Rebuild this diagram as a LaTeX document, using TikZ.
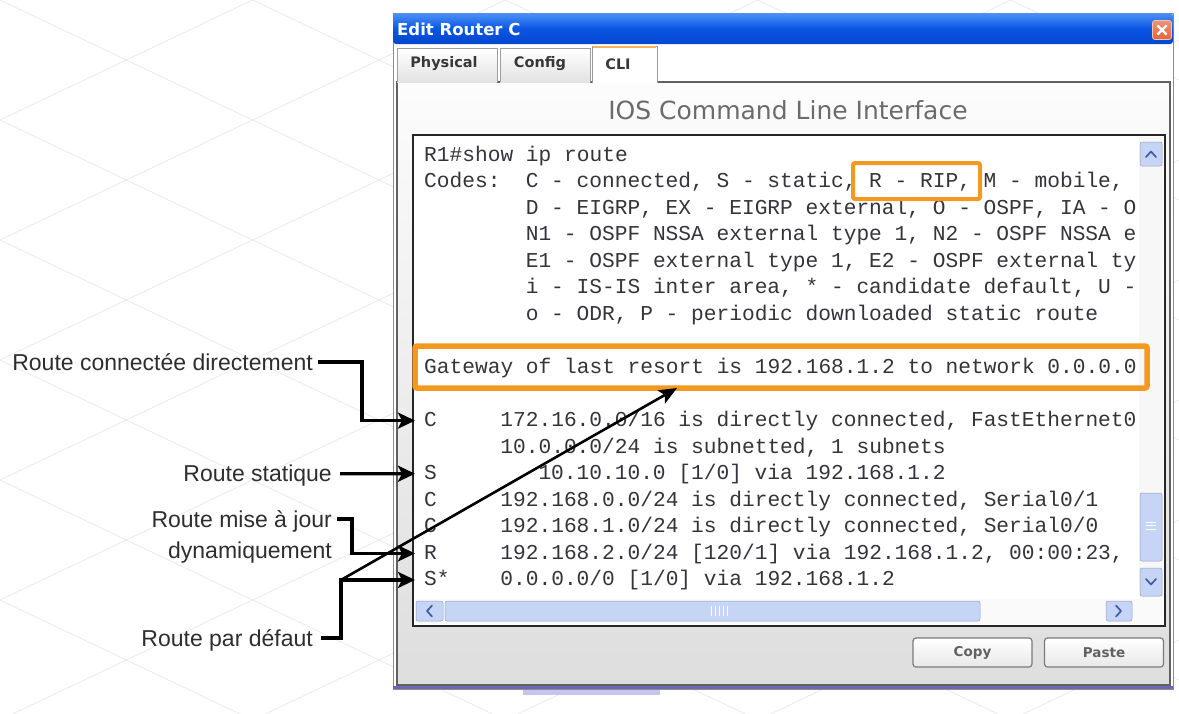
\documentclass[tikz,border=0pt]{standalone}
\usepackage{fontspec}
\setmainfont{Liberation Sans}
\setmonofont{Liberation Mono}
\newfontfamily\uifont{DejaVu Sans}
\usetikzlibrary{arrows.meta}

\definecolor{xpblue}{RGB}{10,86,228}
\definecolor{xpbluelight}{RGB}{78,146,246}
\definecolor{xpbluedark}{RGB}{6,70,205}
\definecolor{hiorange}{RGB}{243,153,33}
\definecolor{sbblue}{RGB}{198,213,246}
\definecolor{sbdark}{RGB}{62,92,165}
\definecolor{clitext}{RGB}{52,52,58}
\definecolor{closered}{RGB}{226,102,60}
\definecolor{winedge}{RGB}{104,104,182}
\definecolor{lavender}{RGB}{196,196,236}

\tikzset{
  gridln/.style={draw=black!9, line width=0.7pt},
  clitxt/.style={anchor=west, inner sep=0pt, text height=12pt, text depth=0pt,
    font=\ttfamily\fontsize{21.2}{26}\selectfont, text=clitext},
  callout/.style={anchor=east, inner sep=0pt, text height=16.5pt, text depth=0pt,
    font=\fontsize{23}{28}\selectfont, text=black!82},
  pointer/.style={draw=black, line width=3.2pt,
    -{Stealth[length=17pt,width=16pt,inset=4pt]}},
  slimpointer/.style={draw=black, line width=2.6pt,
    -{Stealth[length=18pt,width=15pt,inset=4pt]}},
  hibox/.style={draw=hiorange, rounded corners=2pt},
  tabshape/.style={draw=black!38, line width=0.8pt, top color=white, bottom color=black!11},
  tablabel/.style={inner sep=0pt, font=\uifont\bfseries\fontsize{14.5}{16}\selectfont, text=black!78},
  sbbtn/.style={fill=sbblue, draw=sbblue!75!black, line width=0.5pt, rounded corners=2pt},
  chev/.style={draw=sbdark, line width=1.7pt, line cap=round, line join=round},
  uibtn/.style={draw=black!52, line width=1.2pt, rounded corners=3pt, top color=white,
    bottom color=black!9, minimum width=119pt, minimum height=29pt, inner sep=0pt,
    font=\uifont\bfseries\fontsize{13.5}{15}\selectfont, text=black!62},
}

% one line of terminal output: name, column, row, text
\newcommand\cliline[4]{\node[clitxt] (#1) at ({424+12.7*#2},{155+26.56*#3}) {#4};}

\begin{document}
\begin{tikzpicture}[x=1pt,y=-1pt]
\useasboundingbox (0,0) rectangle (1179,713);
\fill[white] (0,0) rectangle (1179,713);

% faint isometric floor grid behind the dialog
\begin{scope}
  \clip (0,0) rectangle (1179,713);
  \foreach \c in {-720,-600,...,1320} {
    \draw[gridln] (0,\c) -- (1179,\c+560);
    \draw[gridln] (0,\c) -- (1179,\c-560);
  }
\end{scope}

% ---------------- dialog window ----------------
\fill[lavender] (523,689) rectangle (660,695);
\fill[white] (393,13) rectangle (1173,689);
\draw[black!45, line width=0.8pt] (393,13) rectangle (1173,689);
\draw[winedge, line width=3pt] (393,687.5) -- (1173,687.5);

% title bar
\shade[top color=xpbluelight, bottom color=xpbluedark, middle color=xpblue,
  rounded corners=3pt] (393,13) rectangle (1173,44);
\node[anchor=west, inner sep=0pt, text=white,
  font=\uifont\bfseries\fontsize{16.5}{19}\selectfont] (title) at (397,29.5) {Edit Router C};
\node[draw=white!60!closered, line width=0.8pt, rounded corners=2.5pt,
  top color=closered!70!white, bottom color=closered, minimum size=19pt, inner sep=0pt]
  (closebtn) at (1162,30) {};
\draw[white, line width=2.4pt] ([shift={(-4.5,-4.5)}]closebtn.center) -- ([shift={(4.5,4.5)}]closebtn.center)
  ([shift={(-4.5,4.5)}]closebtn.center) -- ([shift={(4.5,-4.5)}]closebtn.center);

% tab panel
\shade[top color=black!1, bottom color=black!13] (397,82) rectangle (1170,685);
\draw[black!62, line width=1.4pt] (592,82) -- (397,82) -- (397,685) -- (1170,685) -- (1170,82) -- (657,82);

% tabs
\path[tabshape] (397,82) -- (397,48) -- (497,48) -- (497,82);
\path[tabshape] (500,82) -- (500,48) -- (590,48) -- (590,82);
\fill[white] (592,46) rectangle (657,83);
\draw[black!40, line width=0.8pt] (592,83) -- (592,46) -- (657,46) -- (657,83);
\draw[hiorange!75, line width=2pt] (593,47) -- (656,47);
\node[tablabel] (tabphys) at (444,64) {Physical};
\node[tablabel] (tabconf) at (540,64) {Config};
\node[tablabel] (tabcli)  at (618,64) {CLI};

\node[inner sep=0pt, text=black!58, font=\uifont\fontsize{25}{28}\selectfont]
  (ioshead) at (788,110) {IOS Command Line Interface};

% terminal area
\draw[fill=white, draw=black!85, line width=1.8pt] (413,135) rectangle (1165,626);

% vertical scroll bar
\fill[black!3] (1139,137) rectangle (1163,598);
\path[sbbtn] (1140,142) rectangle (1162,166);
\draw[chev] (1146,157) -- (1151,151.5) -- (1156,157);
\path[sbbtn] (1140,493) rectangle (1162,561);
\draw[white, line width=0.9pt] (1146,522) -- (1156,522) (1146,525.5) -- (1156,525.5) (1146,529) -- (1156,529);
\path[sbbtn] (1140,568) rectangle (1162,596);
\draw[chev] (1146,579) -- (1151,584.5) -- (1156,579);

% horizontal scroll bar
\fill[black!2] (415,599) rectangle (1163,624);
\path[sbbtn] (416,601) rectangle (443,621);
\draw[chev] (432,605.5) -- (427,611) -- (432,616.5);
\path[sbbtn] (445,601) rectangle (980,621);
\foreach \g in {711,715,719,723,727} \draw[white, line width=0.9pt] (\g,606) -- (\g,616);
\path[sbbtn] (1106,601) rectangle (1132,621);
\draw[chev] (1116,605.5) -- (1121,611) -- (1116,616.5);

% terminal output (the visible 56 columns)
\cliline{l0}{0}{0}{R1\#show ip route}
\cliline{l1a}{0}{1}{Codes:}
\cliline{l1b}{8}{1}{C - connected, S - static, R - RIP, M - mobile,}
\cliline{l2}{8}{2}{D - EIGRP, EX - EIGRP external, O - OSPF, IA - O}
\cliline{l3}{8}{3}{N1 - OSPF NSSA external type 1, N2 - OSPF NSSA e}
\cliline{l4}{8}{4}{E1 - OSPF external type 1, E2 - OSPF external ty}
\cliline{l5}{8}{5}{i - IS-IS inter area, * - candidate default, U -}
\cliline{l6}{8}{6}{o - ODR, P - periodic downloaded static route}
\cliline{l8}{0}{8}{Gateway of last resort is 192.168.1.2 to network 0.0.0.0}
\cliline{cC}{0}{10}{C}
\cliline{l10}{6}{10}{172.16.0.0/16 is directly connected, FastEthernet0}
\cliline{l11}{6}{11}{10.0.0.0/24 is subnetted, 1 subnets}
\cliline{cS}{0}{12}{S}
\cliline{l12}{9}{12}{10.10.10.0 [1/0] via 192.168.1.2}
\cliline{cC2}{0}{13}{C}
\cliline{l13}{6}{13}{192.168.0.0/24 is directly connected, Serial0/1}
\cliline{cC3}{0}{14}{C}
\cliline{l14}{6}{14}{192.168.1.0/24 is directly connected, Serial0/0}
\cliline{cR}{0}{15}{R}
\cliline{l15}{6}{15}{192.168.2.0/24 [120/1] via 192.168.1.2, 00:00:23,}
\cliline{cSd}{0}{16}{S*}
\cliline{l16}{6}{16}{0.0.0.0/0 [1/0] via 192.168.1.2}

% highlight frames
\draw[hibox, line width=4pt] (853,163) rectangle (980,199);
\draw[hibox, line width=5.5pt] (415,346) rectangle (1147,388);

% buttons
\node[uibtn] (copybtn)  at (972.5,652.5) {Copy};
\node[uibtn] (pastebtn) at (1104,652.5) {Paste};

% ---------------- callouts ----------------
\node[callout] (lconn) at (313,362) {Route connectée directement};
\node[callout] (lstat) at (332,473.7) {Route statique};
\node[callout] (ldyn)  at (332,519) {Route mise à jour};
\node[callout] (ldyn2) at (332,550) {dynamiquement};
\node[callout] (ldef)  at (313,638) {Route par défaut};

\coordinate (kC)  at ([xshift=-9pt]cC.west);
\coordinate (kS)  at ([xshift=-9pt]cS.west);
\coordinate (kR)  at ([xshift=-9pt]cR.west);
\coordinate (kSd) at ([xshift=-9pt]cSd.west);
\coordinate (fork) at (341,{155+26.56*16});
\coordinate (gwtip) at (677,388);

\draw[pointer] ([xshift=5pt]lconn.east) -- ++(44,0) |- (kC);
\draw[pointer] ([xshift=8pt]lstat.east) -- (kS);
\draw[pointer] ([xshift=5pt]ldyn.east) -- ++(15,0) |- (kR);
\draw[pointer] ([xshift=8pt]ldef.east) -| (fork) -- (kSd);
\draw[slimpointer] (fork) -- (gwtip);
\end{tikzpicture}
\end{document}
